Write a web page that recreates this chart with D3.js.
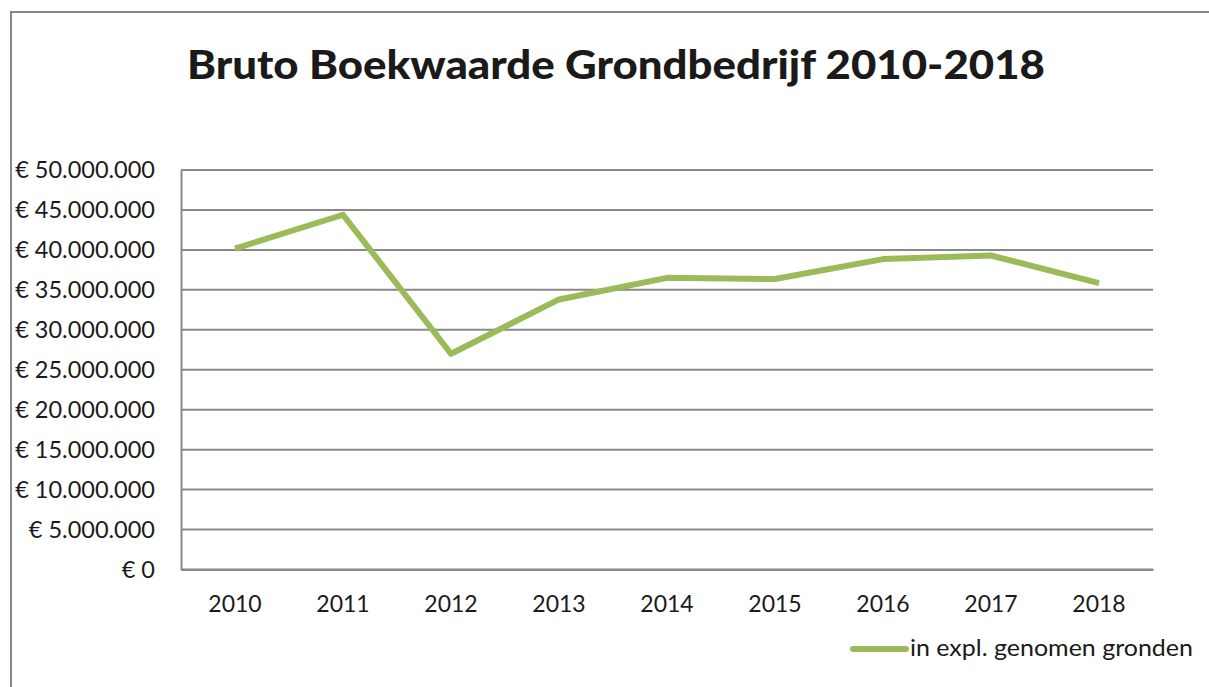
<!DOCTYPE html>
<html>
<head>
<meta charset="utf-8">
<script src="https://cdn.jsdelivr.net/npm/d3@7"></script>
<style>
  body { margin: 0; background: #fff; }
  text { font-family: Lato, "Open Sans", sans-serif; fill: #1a1a1a; }
</style>
</head>
<body>
<div id="Canvas"></div>
<script>
// data
const years = ["2010", "2011", "2012", "2013", "2014", "2015", "2016", "2017", "2018"]
const values = [40150000, 44400000, 27000000, 33800000, 36500000, 36350000, 38850000, 39300000, 35850000]
const yTicks = [0, 5e6, 10e6, 15e6, 20e6, 25e6, 30e6, 35e6, 40e6, 45e6, 50e6]
const seriesName = "in expl. genomen gronden"
const title = "Bruto Boekwaarde Grondbedrijf 2010-2018"

const W = 1209, H = 687
let svg = d3.select("#Canvas")
    .append("svg")
    .attr("width", W)
    .attr("height", H)

// outer chart frame
svg.append("rect")
    .attr("x", 11).attr("y", 12)
    .attr("width", W + 20).attr("height", H + 20)
    .attr("fill", "#fff")
    .attr("stroke", "#878787")
    .attr("stroke-width", 2)

let xScale = d3.scaleBand()
    .domain(years)
    .range([181, 1153])
let yScale = d3.scaleLinear()
    .domain([0, 50e6])
    .range([569.5, 170])

const fmt = v => "€ " + d3.format(",")(v).replace(/,/g, ".")

// gridlines
svg.append("g")
    .selectAll("line")
    .data(yTicks)
    .enter()
    .append("line")
    .attr("x1", 181)
    .attr("x2", 1153)
    .attr("y1", d => yScale(d))
    .attr("y2", d => yScale(d))
    .attr("stroke", "#888")
    .attr("stroke-width", 2)

// y axis
let yAxis = d3.axisLeft(yScale)
    .tickValues(yTicks)
    .tickSize(0)
    .tickPadding(26)
    .tickFormat(fmt)
let gy = svg.append("g")
    .attr("transform", "translate(181,0)")
    .call(yAxis)
gy.select(".domain").attr("stroke", "#888").attr("stroke-width", 2)
gy.selectAll("text")
    .style("font-family", "Lato, 'Open Sans', sans-serif")
    .style("font-size", "23.5px")
    .attr("fill", "#1a1a1a")

// x axis
let xAxis = d3.axisBottom(xScale)
    .tickSize(0)
    .tickPadding(26)
let gx = svg.append("g")
    .attr("transform", "translate(0,569.5)")
    .call(xAxis)
gx.select(".domain").attr("stroke", "#888").attr("stroke-width", 2)
gx.selectAll("text")
    .style("font-family", "Lato, 'Open Sans', sans-serif")
    .style("font-size", "23px")
    .attr("fill", "#1a1a1a")

// line
let line = d3.line()
    .x((d, i) => xScale(years[i]) + xScale.bandwidth() / 2)
    .y(d => yScale(d))
svg.append("path")
    .datum(values)
    .attr("d", line)
    .attr("fill", "none")
    .attr("stroke", "#9bbb59")
    .attr("stroke-width", 6)
    .attr("stroke-linejoin", "round")

// title
svg.append("text")
    .attr("x", 616)
    .attr("y", 79)
    .attr("text-anchor", "middle")
    .style("font-size", "39px")
    .style("font-weight", "900")
    .attr("textLength", 858)
    .attr("lengthAdjust", "spacingAndGlyphs")
    .attr("fill", "#000")
    .text(title)

// legend
svg.append("line")
    .attr("x1", 853).attr("x2", 906)
    .attr("y1", 649).attr("y2", 649)
    .attr("stroke", "#9bbb59")
    .attr("stroke-width", 6)
    .attr("stroke-linecap", "round")
svg.append("text")
    .attr("x", 910)
    .attr("y", 656)
    .style("font-size", "23px")
    .attr("textLength", 283)
    .attr("lengthAdjust", "spacingAndGlyphs")
    .text(seriesName)
</script>
</body>
</html>
